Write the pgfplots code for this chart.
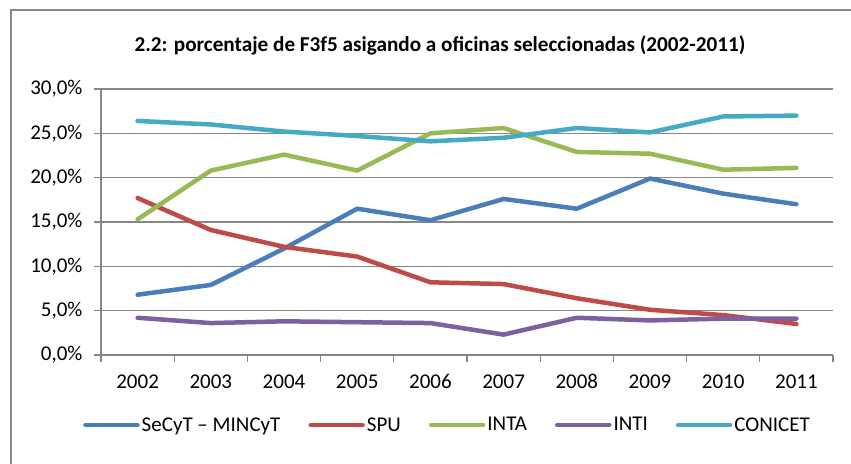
\documentclass[border=0pt]{standalone}
\usepackage{pgfplots}
\pgfplotsset{compat=1.18}
\usepackage{fontspec}
\setmainfont{Carlito}
\definecolor{cblue}{HTML}{4A7EBB}
\definecolor{cred}{HTML}{BE4B48}
\definecolor{cgreen}{HTML}{98B954}
\definecolor{cpurple}{HTML}{7D60A0}
\definecolor{caqua}{HTML}{46AAC5}
\definecolor{axgray}{HTML}{868686}
\begin{document}
\begin{tikzpicture}[x=1pt,y=1pt]
\path[use as bounding box] (-101,-108) rectangle (750,355);
\draw[axgray, line width=1.3pt] (-90,-110) -- (-90,345) -- (752,345);
\begin{axis}[
  scale only axis, width=732pt, height=266pt,
  xmin=-0.5, xmax=9.5, ymin=0, ymax=30,
  axis x line*=bottom, axis y line*=left,
  axis line style={-, draw=axgray, line width=1.2pt},
  tick style={draw=axgray, line width=1.2pt},
  tick align=outside, major tick length=7pt,
  xtick={-0.5,0.5,...,9.5}, xticklabels={},
  extra x ticks={0,1,...,9},
  extra x tick labels={2002,2003,2004,2005,2006,2007,2008,2009,2010,2011},
  extra x tick style={major tick length=0pt, tick label style={yshift=-16pt}},
  ytick={0,5,...,30},
  yticklabels={{0,0\%},{5,0\%},{10,0\%},{15,0\%},{20,0\%},{25,0\%},{30,0\%}},
  yticklabel style={xshift=-8pt},
  ymajorgrids, grid style={draw=axgray, line width=1.2pt},
  tick label style={font=\fontsize{21}{24}\selectfont, text=black},
  legend columns=5,
  legend style={at={(0.4734,-0.263)}, anchor=center, draw=none, fill=none,
    font=\fontsize{21}{24}\selectfont, inner sep=0pt,
    /tikz/every even column/.append style={column sep=26pt}},
  legend image code/.code={\draw[line width=4.5pt, line cap=round] (0pt,0pt) -- (52pt,0pt);},
  every axis plot/.append style={line width=4.5pt, line join=round, line cap=round, no markers},
]
\addplot[cblue] coordinates {(0,6.8)(1,7.9)(2,12.0)(3,16.5)(4,15.2)(5,17.6)(6,16.5)(7,19.9)(8,18.2)(9,17.0)};
\addlegendentry{SeCyT – MINCyT}
\addplot[cred] coordinates {(0,17.7)(1,14.1)(2,12.2)(3,11.1)(4,8.2)(5,8.0)(6,6.4)(7,5.1)(8,4.5)(9,3.5)};
\addlegendentry{SPU}
\addplot[cgreen] coordinates {(0,15.3)(1,20.8)(2,22.6)(3,20.8)(4,25.0)(5,25.6)(6,22.9)(7,22.7)(8,20.9)(9,21.1)};
\addlegendentry{INTA}
\addplot[cpurple] coordinates {(0,4.2)(1,3.6)(2,3.8)(3,3.7)(4,3.6)(5,2.3)(6,4.2)(7,3.9)(8,4.1)(9,4.1)};
\addlegendentry{INTI}
\addplot[caqua] coordinates {(0,26.4)(1,26.0)(2,25.2)(3,24.7)(4,24.1)(5,24.5)(6,25.6)(7,25.1)(8,26.9)(9,27.0)};
\addlegendentry{CONICET}
\end{axis}
\node[font=\bfseries\fontsize{21.2}{24}\selectfont] at (339,310) {2.2: porcentaje de F3f5 asigando a oficinas seleccionadas (2002-2011)};
\end{tikzpicture}
\end{document}
